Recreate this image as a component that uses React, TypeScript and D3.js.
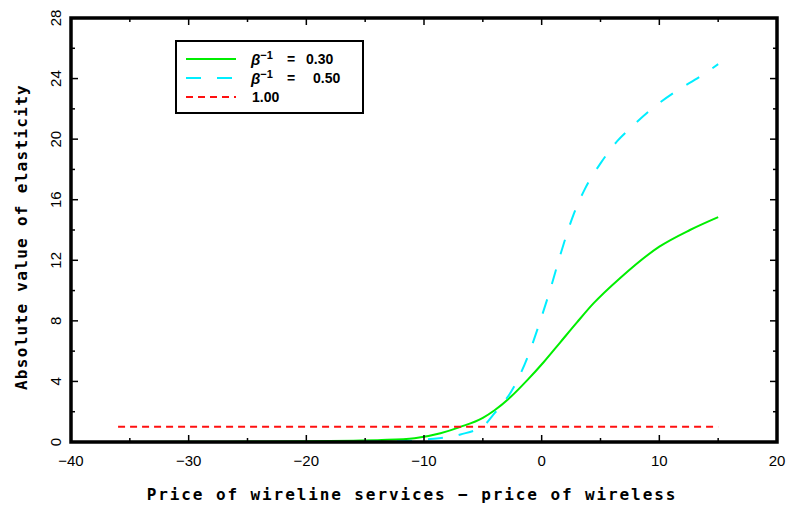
import * as d3 from "d3";

// price difference (wireline - wireless) and absolute elasticity
const greenX = [-36, -30, -25, -20, -16, -13.6, -10.8, -8.6, -6.9, -5, -4, -2.6, -1.2, 0.2, 1.6, 3, 4.4, 6.7, 10, 12.6, 15];
const greenY = [0.0, 0.01, 0.03, 0.05, 0.09, 0.13, 0.25, 0.58, 1.0, 1.6, 2.1, 3.0, 4.1, 5.3, 6.6, 7.9, 9.15, 10.85, 12.9, 14.0, 14.85];

const cyanX = [-36, -20, -14, -12, -9.7, -6.9, -4.9, -4, -2.35, -1.2, -0.1, 0.8, 1.6, 2.7, 3.7, 5, 6.4, 7.5, 9.2, 11.5, 13.5, 15];
const cyanY = [0.0, 0.0, 0.02, 0.05, 0.18, 0.5, 1.1, 1.9, 3.65, 5.6, 8.05, 10.25, 12.4, 15.0, 16.75, 18.4, 19.85, 20.7, 21.9, 23.2, 24.15, 24.95];

const redX = [-36, 15];
const redY = [1.0, 1.0];

const xMajor = [-40, -30, -20, -10, 0, 10, 20];
const xMinor = [-35, -25, -15, -5, 5, 15];
const yMajor = [0, 4, 8, 12, 16, 20, 24, 28];
const yMinor = [2, 6, 10, 14, 18, 22, 26];

const legendLabels = ["0.30", "0.50", "1.00"];

const W = 791;
const H = 507;
const m = { left: 71, right: 14, top: 18, bottom: 65 };

export default function App() {
  const x = d3.scaleLinear().domain([-40, 20]).range([m.left, W - m.right]);
  const y = d3.scaleLinear().domain([0, 28]).range([H - m.bottom, m.top]);
  const fmt = d3.format("d");

  const line = d3
    .line<[number, number]>()
    .x((d) => x(d[0]))
    .y((d) => y(d[1]))
    .curve(d3.curveMonotoneX);

  const zip = (a: number[], b: number[]) => a.map((v, i) => [v, b[i]] as [number, number]);

  const x0 = x(-40), x1 = x(20), y0 = y(0), y1 = y(28);
  const mono = "'DejaVu Sans Mono', monospace";
  const sans = "'Liberation Sans', Arial, sans-serif";

  const lg = { x: 176, y: 41, w: 187, h: 72 };
  const rows = [
    { color: "#00ee00", dash: "none", label: legendLabels[0], beta: true, vx: 306 },
    { color: "#00eeff", dash: "15,16", label: legendLabels[1], beta: true, vx: 313 },
    { color: "#ff1010", dash: "7,5", label: legendLabels[2], beta: false, vx: 252 },
  ];

  return (
    <svg width={W} height={H} style={{ position: "absolute", left: 0, top: 0, background: "#fff" }}>
      {/* curves */}
      <path d={line(zip(greenX, greenY)) || ""} fill="none" stroke="#00ee00" strokeWidth={2} />
      <path d={line(zip(cyanX, cyanY)) || ""} fill="none" stroke="#00eeff" strokeWidth={2} strokeDasharray="15,16" />
      <path d={line(zip(redX, redY)) || ""} fill="none" stroke="#ff1010" strokeWidth={2} strokeDasharray="7,5" />

      {/* ticks on all four sides, inward */}
      <g stroke="#000" strokeWidth={1.5}>
        {xMajor.map((v) => (
          <g key={"xM" + v}>
            <line x1={x(v)} x2={x(v)} y1={y0} y2={y0 - 7} />
            <line x1={x(v)} x2={x(v)} y1={y1} y2={y1 + 7} />
          </g>
        ))}
        {xMinor.map((v) => (
          <g key={"xm" + v}>
            <line x1={x(v)} x2={x(v)} y1={y0} y2={y0 - 4} />
            <line x1={x(v)} x2={x(v)} y1={y1} y2={y1 + 4} />
          </g>
        ))}
        {yMajor.map((v) => (
          <g key={"yM" + v}>
            <line x1={x0} x2={x0 + 7} y1={y(v)} y2={y(v)} />
            <line x1={x1} x2={x1 - 7} y1={y(v)} y2={y(v)} />
          </g>
        ))}
        {yMinor.map((v) => (
          <g key={"ym" + v}>
            <line x1={x0} x2={x0 + 4} y1={y(v)} y2={y(v)} />
            <line x1={x1} x2={x1 - 4} y1={y(v)} y2={y(v)} />
          </g>
        ))}
      </g>

      {/* frame */}
      <rect x={x0} y={y1} width={x1 - x0} height={y0 - y1} fill="none" stroke="#000" strokeWidth={3.5} />

      {/* tick labels */}
      <g fontFamily={sans} fontSize={15} fill="#000" textAnchor="middle">
        {xMajor.map((v) => (
          <text key={"xl" + v} x={x(v)} y={y0 + 24}>{fmt(v)}</text>
        ))}
        {yMajor.map((v) => (
          <text key={"yl" + v} transform={`translate(${x0 - 10},${y(v)}) rotate(-90)`}>{fmt(v)}</text>
        ))}
      </g>

      {/* axis titles */}
      <text x={(x0 + x1) / 2 - 12} y={H - 7} textAnchor="middle" fontFamily={mono} fontWeight="bold" fontSize={16} letterSpacing={1.9}>
        Price of wireline services − price of wireless
      </text>
      <text transform={`translate(27,${(y0 + y1) / 2 + 7}) rotate(-90)`} textAnchor="middle" fontFamily={mono} fontWeight="bold" fontSize={16} letterSpacing={1.3}>
        Absolute value of elasticity
      </text>

      {/* legend */}
      <rect x={lg.x} y={lg.y} width={lg.w} height={lg.h} fill="#fff" stroke="#000" strokeWidth={2} />
      {rows.map((r, i) => {
        const ry = 59 + i * 19;
        return (
          <g key={"lg" + i}>
            <line x1={186} x2={236} y1={ry} y2={ry} stroke={r.color} strokeWidth={2} strokeDasharray={r.dash} />
            {r.beta && (
              <text x={251} y={ry + 6} fontFamily={sans} fontWeight="bold" fontSize={15}>
                <tspan fontStyle="italic">β</tspan>
                <tspan dy={-6} fontSize={11}>−1</tspan>
              </text>
            )}
            {r.beta && (
              <text x={287} y={ry + 5} fontFamily={sans} fontWeight="bold" fontSize={14}>=</text>
            )}
            <text x={r.vx} y={ry + 5} fontFamily={sans} fontWeight="bold" fontSize={14}>{r.label}</text>
          </g>
        );
      })}
    </svg>
  );
}
